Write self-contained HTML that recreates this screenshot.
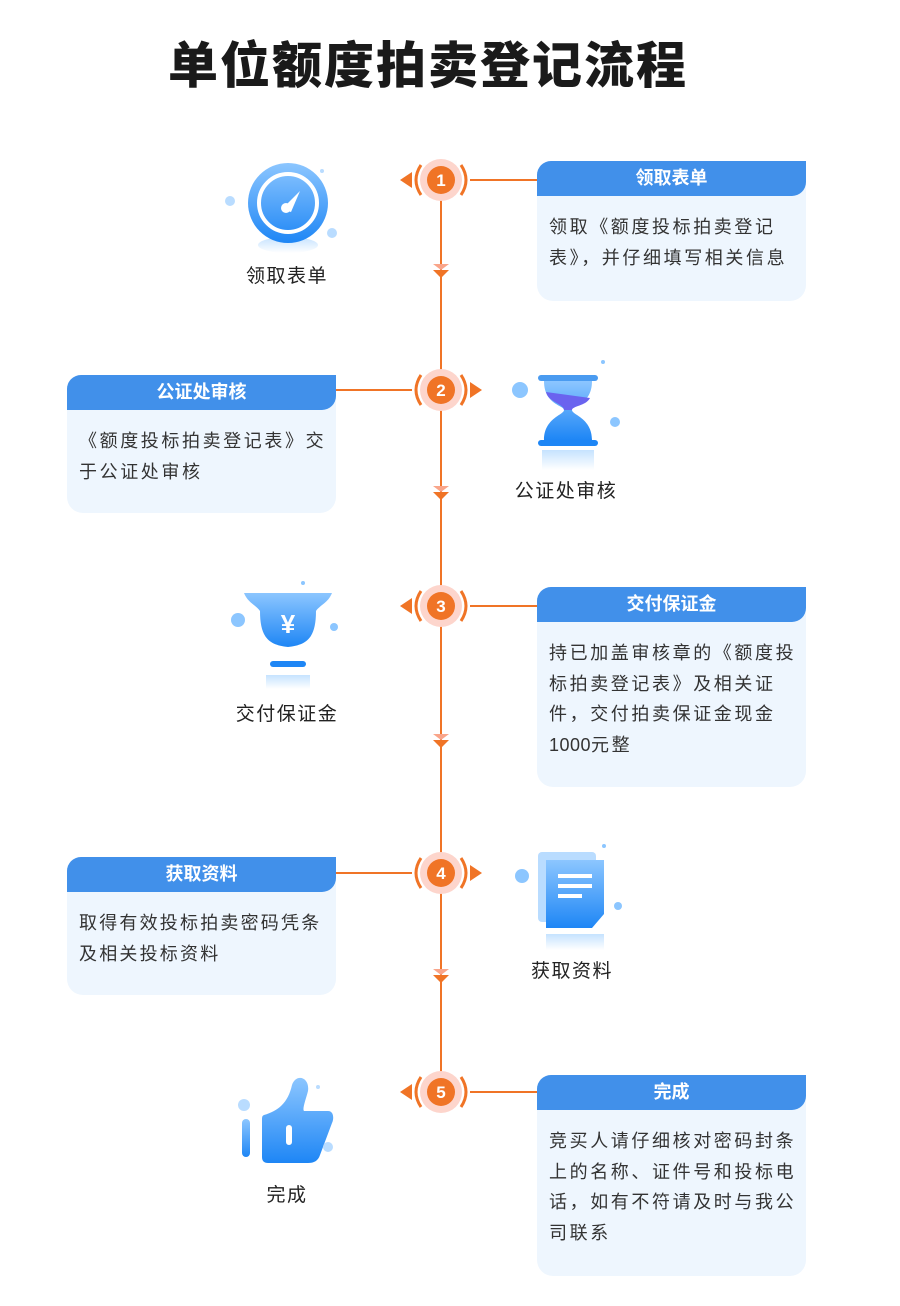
<!DOCTYPE html>
<html><head><meta charset="utf-8"><style>
*{margin:0;padding:0;box-sizing:border-box}
body{width:900px;height:1306px;background:#fff;position:relative;overflow:hidden;font-family:"Liberation Sans","Noto Sans CJK SC",sans-serif}
.t{position:absolute;left:168px;top:26px;font-size:50px;font-weight:900;color:#1a1a1a;letter-spacing:2px;font-family:"Liberation Sans","Noto Sans CJK SC",sans-serif}
.card{position:absolute;width:269px;background:#eef6fe;border-radius:14px 0 16px 16px}
.card .h{height:35px;background:#4190ea;color:#fff;font-size:18px;font-weight:bold;text-align:center;line-height:35px;border-radius:14px 0 14px 0}
.card .b{padding:16px 0 0 12px;font-size:18px;line-height:30.5px;color:#333;letter-spacing:2.6px;white-space:nowrap}
.lab{position:absolute;font-size:19px;color:#222;text-align:center;width:140px;letter-spacing:1.5px}
svg{position:absolute;left:0;top:0}
</style></head><body>
<div class="t">单位额度拍卖登记流程</div>
<svg width="900" height="1306" viewBox="0 0 900 1306">
<defs>
<linearGradient id="bg" x1="0" y1="0" x2="0" y2="1"><stop offset="0" stop-color="#8cc6ff"/><stop offset="1" stop-color="#1e86f5"/></linearGradient>
<linearGradient id="fd" x1="0" y1="0" x2="0" y2="1"><stop offset="0" stop-color="#8cc6ff" stop-opacity=".5"/><stop offset="1" stop-color="#8cc6ff" stop-opacity="0"/></linearGradient>
<g id="dn"><path d="M-8,-6 L8,-6 L0,0Z" fill="#f9a58a"/><path d="M-8,0 L8,0 L0,8Z" fill="#f07426"/></g>
</defs>
<g stroke="#f07426" stroke-width="2">
<line x1="441" y1="195" x2="441" y2="1078"/>
<line x1="470" y1="180" x2="537" y2="180"/>
<line x1="336" y1="390" x2="412" y2="390"/>
<line x1="470" y1="606" x2="537" y2="606"/>
<line x1="336" y1="873" x2="412" y2="873"/>
<line x1="470" y1="1092" x2="537" y2="1092"/>
</g>
<use href="#dn" x="441" y="270"/><use href="#dn" x="441" y="492"/><use href="#dn" x="441" y="740"/><use href="#dn" x="441" y="975"/>
<g font-family="Liberation Sans,sans-serif" font-size="17" font-weight="bold" fill="#fff" text-anchor="middle">
<g transform="translate(441,180)"><circle r="21" fill="#fdd5cc"/><circle r="14" fill="#f07426"/><text y="6">1</text><path d="M-20,-15 Q-30,0 -20,15 M20,-15 Q30,0 20,15" stroke="#f07426" stroke-width="3" fill="none"/><path d="M-29,-8 L-41,0 L-29,8Z" fill="#f07426"/></g>
<g transform="translate(441,390)"><circle r="21" fill="#fdd5cc"/><circle r="14" fill="#f07426"/><text y="6">2</text><path d="M-20,-15 Q-30,0 -20,15 M20,-15 Q30,0 20,15" stroke="#f07426" stroke-width="3" fill="none"/><path d="M29,-8 L41,0 L29,8Z" fill="#f07426"/></g>
<g transform="translate(441,606)"><circle r="21" fill="#fdd5cc"/><circle r="14" fill="#f07426"/><text y="6">3</text><path d="M-20,-15 Q-30,0 -20,15 M20,-15 Q30,0 20,15" stroke="#f07426" stroke-width="3" fill="none"/><path d="M-29,-8 L-41,0 L-29,8Z" fill="#f07426"/></g>
<g transform="translate(441,873)"><circle r="21" fill="#fdd5cc"/><circle r="14" fill="#f07426"/><text y="6">4</text><path d="M-20,-15 Q-30,0 -20,15 M20,-15 Q30,0 20,15" stroke="#f07426" stroke-width="3" fill="none"/><path d="M29,-8 L41,0 L29,8Z" fill="#f07426"/></g>
<g transform="translate(441,1092)"><circle r="21" fill="#fdd5cc"/><circle r="14" fill="#f07426"/><text y="6">5</text><path d="M-20,-15 Q-30,0 -20,15 M20,-15 Q30,0 20,15" stroke="#f07426" stroke-width="3" fill="none"/><path d="M-29,-8 L-41,0 L-29,8Z" fill="#f07426"/></g>
</g>
<g transform="translate(288,203)">
<ellipse cx="0" cy="42" rx="30" ry="8" fill="url(#fd)"/>
<circle r="40" fill="url(#bg)"/><circle r="29" fill="none" stroke="#fff" stroke-width="4"/>
<path d="M-6,6 L12,-12 L3,9Z" fill="#fff"/><circle cx="-2" cy="5" r="5" fill="#fff"/>
<circle cx="-58" cy="-2" r="5" fill="#b9dcff"/><circle cx="44" cy="30" r="5" fill="#b9dcff"/><circle cx="34" cy="-32" r="2" fill="#b9dcff"/>
</g>
<g transform="translate(568,410)">
<rect x="-30" y="-35" width="60" height="6" rx="3" fill="#4a9bf0"/>
<path d="M-24,-29 H24 C24,-5 4,-5 4,0 C4,5 24,8 24,30 H-24 C-24,8 -4,5 -4,0 C-4,-5 -24,-5 -24,-29Z" fill="url(#bg)"/>
<path d="M-22,-18 L22,-12 C18,-4 4,-4 4,0 H-4 C-4,-6 -20,-8 -22,-18Z" fill="#6a63ef"/>
<rect x="-30" y="30" width="60" height="6" rx="3" fill="#1e86f5"/>
<rect x="-26" y="40" width="52" height="20" fill="url(#fd)"/>
<circle cx="-48" cy="-20" r="8" fill="#8cc6ff"/><circle cx="47" cy="12" r="5" fill="#8cc6ff"/><circle cx="35" cy="-48" r="2" fill="#8cc6ff"/>
</g>
<g transform="translate(288,625)">
<path d="M-44,-32 H44 C40,-22 32,-20 28,-14 C28,14 18,20 0,22 C-18,20 -28,14 -28,-14 C-32,-20 -40,-22 -44,-32Z" fill="url(#bg)"/>
<text x="0" y="8" font-size="26" font-weight="bold" fill="#fff" text-anchor="middle" font-family="Liberation Sans,Noto Sans CJK SC,sans-serif">¥</text>
<rect x="-18" y="36" width="36" height="6" rx="3" fill="#1e86f5"/>
<rect x="-22" y="50" width="44" height="14" fill="url(#fd)"/>
<circle cx="-50" cy="-5" r="7" fill="#8cc6ff"/><circle cx="46" cy="2" r="4" fill="#8cc6ff"/><circle cx="15" cy="-42" r="2" fill="#8cc6ff"/>
</g>
<g transform="translate(572,890)">
<rect x="-34" y="-38" width="58" height="70" rx="4" fill="#b9dcff"/>
<path d="M-26,-30 H32 V24 L20,38 H-26Z" fill="url(#bg)"/>
<rect x="-14" y="-16" width="34" height="4" fill="#fff"/><rect x="-14" y="-6" width="34" height="4" fill="#fff"/><rect x="-14" y="4" width="24" height="4" fill="#fff"/>
<rect x="-26" y="44" width="58" height="16" fill="url(#fd)"/>
<circle cx="-50" cy="-14" r="7" fill="#8cc6ff"/><circle cx="46" cy="16" r="4" fill="#8cc6ff"/><circle cx="32" cy="-44" r="2" fill="#8cc6ff"/>
</g>
<g transform="translate(288,1125)">
<path d="M-24,-10 C-10,-14 0,-22 4,-40 C8,-52 22,-48 20,-34 C18,-26 14,-16 16,-14 H40 C46,-14 46,-6 44,-2 L32,30 C30,36 26,38 20,38 H-20 C-24,38 -26,36 -26,32 V-4 C-26,-8 -26,-9 -24,-10Z" fill="url(#bg)"/>
<rect x="-2" y="0" width="6" height="20" rx="3" fill="#fff"/>
<rect x="-46" y="-6" width="8" height="38" rx="4" fill="url(#bg)"/>
<circle cx="-44" cy="-20" r="6" fill="#b9dcff"/><circle cx="40" cy="22" r="5" fill="#b9dcff"/><circle cx="30" cy="-38" r="2" fill="#b9dcff"/>
</g>
</svg>

<div class="card" style="left:537px;top:161px;height:140px"><div class="h">领取表单</div><div class="b">领取《额度投标拍卖登记<br>表》，并仔细填写相关信息</div></div>
<div class="card" style="left:67px;top:375px;height:138px"><div class="h">公证处审核</div><div class="b">《额度投标拍卖登记表》交<br>于公证处审核</div></div>
<div class="card" style="left:537px;top:587px;height:200px"><div class="h">交付保证金</div><div class="b">持已加盖审核章的《额度投<br>标拍卖登记表》及相关证<br>件，交付拍卖保证金现金<br><span style="letter-spacing:0.5px">1000</span>元整</div></div>
<div class="card" style="left:67px;top:857px;height:138px"><div class="h">获取资料</div><div class="b" style="letter-spacing:2.2px">取得有效投标拍卖密码凭条<br>及相关投标资料</div></div>
<div class="card" style="left:537px;top:1075px;height:201px"><div class="h">完成</div><div class="b">竞买人请仔细核对密码封条<br>上的名称、证件号和投标电<br>话，如有不符请及时与我公<br>司联系</div></div>

<div class="lab" style="left:217px;top:261px">领取表单</div>
<div class="lab" style="left:496px;top:476px">公证处审核</div>
<div class="lab" style="left:217px;top:699px">交付保证金</div>
<div class="lab" style="left:502px;top:956px">获取资料</div>
<div class="lab" style="left:217px;top:1180px">完成</div>
</body></html>
